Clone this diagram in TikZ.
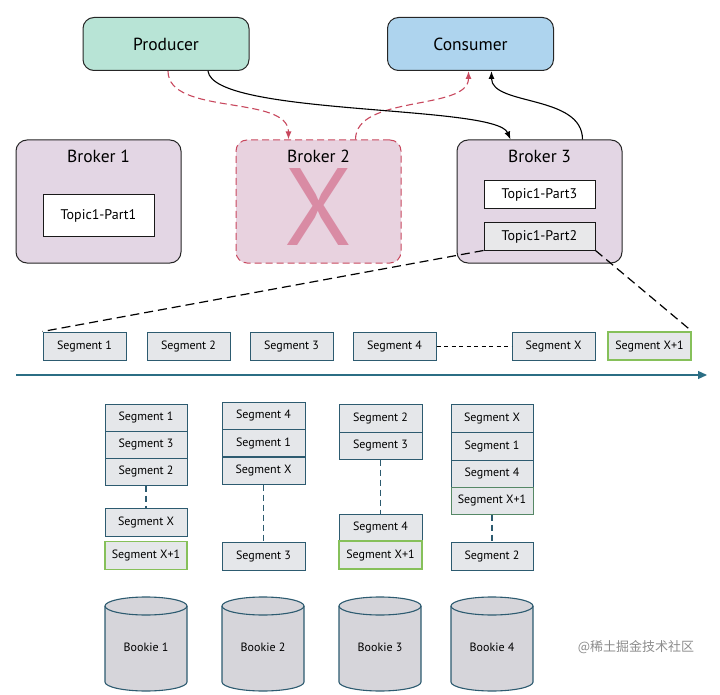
\documentclass[tikz,border=0pt]{standalone}
\usepackage{fontspec}
\setmainfont{PT Sans}
\newfontfamily\cjk{Noto Sans CJK SC}
\usetikzlibrary{arrows.meta}
\definecolor{prodfill}{HTML}{B8E4D6}
\definecolor{consfill}{HTML}{AED4EE}
\definecolor{brokfill}{HTML}{E3D6E4}
\definecolor{brokbfill}{HTML}{E8D2DF}
\definecolor{redd}{HTML}{C8485E}
\definecolor{xpink}{HTML}{D98BA4}
\definecolor{segfill}{HTML}{E5E7EA}
\definecolor{segline}{HTML}{2D5B70}
\definecolor{greenl}{HTML}{86C05A}
\definecolor{axiscol}{HTML}{2B6E84}
\definecolor{cylfill}{HTML}{D6D5DA}
\definecolor{tgray}{HTML}{E8E8EA}
\begin{document}
\begin{tikzpicture}[x=1pt,y=-1pt,
  top/.style={draw=black!85,line width=1pt,rounded corners=11pt,inner sep=0pt,
    minimum width=166pt,minimum height=53pt,font=\fontsize{17.5}{19}\selectfont},
  broker/.style={draw=black!85,line width=1pt,rounded corners=11pt,inner sep=0pt,
    minimum width=165pt,minimum height=123pt,fill=brokfill},
  btitle/.style={font=\fontsize{17.5}{19}\selectfont,inner sep=1pt},
  topic/.style={draw=black!90,line width=1pt,fill=white,inner sep=0pt,
    minimum width=111pt,font=\fontsize{14}{16}\selectfont},
  seg/.style={draw=segline,line width=1pt,fill=segfill,inner sep=0pt,
    minimum width=82pt,minimum height=27pt,font=\fontsize{12}{14}\selectfont},
  gseg/.style={seg,draw=greenl,line width=1.6pt},
  redarr/.style={draw=redd,line width=1.1pt,dash pattern=on 7pt off 4pt,
    -{Latex[length=8pt,width=6pt]}},
  blkarr/.style={draw=black,line width=1.1pt,-{Latex[length=8pt,width=6pt]}},
  zoomline/.style={draw=black,line width=1.2pt,dash pattern=on 9pt off 5pt},
  coldash/.style={draw=segline,line width=1.1pt,dash pattern=on 6pt off 4pt},
  cyl/.style={draw=segline,line width=1.1pt,fill=cylfill},
  lab/.style={font=\fontsize{12}{14}\selectfont,inner sep=1pt}]
\useasboundingbox (0,0) rectangle (720,695);

% top row
\node[top,fill=prodfill] (prod) at (166,44) {Producer};
\node[top,fill=consfill] (cons) at (470.5,44) {Consumer};

% brokers
\node[broker] (b1) at (98.5,201.5) {};
\node[btitle] (b1t) at (98.5,156) {Broker 1};
\node[broker,fill=brokbfill,draw=redd,dash pattern=on 7pt off 4pt] (b2) at (318.5,201.5) {};
\node[text=xpink,font=\fontsize{110}{112}\selectfont,inner sep=0pt,
  text height=0.70em,text depth=0pt,anchor=base] (bx) at (318.5,245) {X};
\node[btitle] (b2t) at (318.5,156) {Broker 2};
\node[broker] (b3) at (539.5,201.5) {};
\node[btitle] (b3t) at (539.5,156) {Broker 3};

\node[topic,minimum height=41pt] (t1) at (98.5,215.5) {Topic1-Part1};
\node[topic,minimum height=28pt] (t3) at (539.5,195) {Topic1-Part3};
\node[topic,minimum height=27pt,fill=tgray] (t2) at (539.5,236.5) {Topic1-Part2};

% arrows between top and brokers
\draw[redarr] ([xshift=2pt]prod.south) .. controls +(0,45) and +(0,-45) .. ([xshift=-30pt]b2.north);
\draw[redarr] ([xshift=37pt]b2.north) .. controls +(0,-45) and +(0,40) .. ([xshift=-2pt]cons.south);
\draw[blkarr] ([xshift=42pt]prod.south) .. controls +(5,45) and +(-15,-35) .. ([xshift=-29pt]b3.north);
\draw[blkarr] ([xshift=43pt]b3.north) .. controls +(0,-45) and +(0,35) .. ([xshift=21pt]cons.south);

% segment row
\node[seg,minimum width=83pt,minimum height=28pt] (s1) at (84.5,346) {Segment 1};
\node[seg,minimum width=83pt,minimum height=28pt] (s2) at (188.5,346) {Segment 2};
\node[seg,minimum width=83pt,minimum height=28pt] (s3) at (291.5,346) {Segment 3};
\node[seg,minimum width=83pt,minimum height=28pt] (s4) at (394.5,346) {Segment 4};
\node[seg,minimum width=83pt,minimum height=28pt] (sx) at (553.5,346) {Segment X};
\node[gseg,minimum width=83pt,minimum height=28pt] (sx1) at (649.5,346) {Segment X+1};
\draw[line width=1pt,dash pattern=on 4pt off 3.5pt] (s4) -- (sx);
\draw[zoomline] (t2.south west) -- (s1.north west);
\draw[zoomline] (t2.south east) -- (sx1.north east);

% axis
\coordinate (ax0) at (16,375);
\coordinate (ax1) at (707,375);
\draw[axiscol,line width=1.2pt,-{Triangle[length=9pt,width=8pt]}] (ax0) -- (ax1);

% column 1
\node[seg] (a1) at (146,417.5) {Segment 1};
\node[seg] (a2) at (146,444.5) {Segment 3};
\node[seg] (a3) at (146,471.5) {Segment 2};
\node[seg,minimum height=28pt] (a4) at (146,522) {Segment X};
\node[gseg,minimum height=28pt] (a5) at (146,555.5) {Segment X+1};
\draw[coldash] (a3.south) -- (a4.north);

% column 2
\node[seg,minimum width=83pt] (c1) at (263.5,415.5) {Segment 4};
\node[seg,minimum width=83pt] (c2) at (263.5,443) {Segment 1};
\node[seg,minimum width=83pt] (c3) at (263.5,470.5) {Segment X};
\node[seg,minimum width=83pt,minimum height=28pt] (c4) at (263.5,556) {Segment 3};
\draw[coldash] (c3.south) -- (c4.north);

% column 3
\node[seg,minimum width=83pt,minimum height=28pt] (d1) at (380.5,418) {Segment 2};
\node[seg,minimum width=83pt] (d2) at (380.5,445.5) {Segment 3};
\node[seg,minimum width=83pt] (d3) at (380.5,527.5) {Segment 4};
\node[gseg,minimum width=83pt,minimum height=28pt] (d4) at (380.5,555) {Segment X+1};
\draw[coldash] (d2.south) -- (d3.north);

% column 4
\node[seg,minimum height=28pt] (e1) at (492,418) {Segment X};
\node[seg,minimum height=28pt] (e2) at (492,446) {Segment 1};
\node[seg] (e3) at (492,473.5) {Segment 4};
\node[seg,draw=segline!55!greenl] (e4) at (492,500.5) {Segment X+1};
\node[seg,minimum height=28pt] (e5) at (492,556) {Segment 2};
\draw[coldash] (e4.south) -- (e5.north);

% bookies
\foreach \cx/\n in {146/1,263/2,380/3,492/4}{
  \filldraw[cyl] (\cx-41,606) -- (\cx-41,682)
     arc[start angle=180,end angle=0,x radius=41,y radius=9]
     -- (\cx+41,606)
     arc[start angle=0,end angle=-180,x radius=41,y radius=9] -- cycle;
  \draw[cyl,fill=none] (\cx-41,606) arc[start angle=180,end angle=0,x radius=41,y radius=9];
  \node[lab] (bk\n) at (\cx,647) {Bookie \n};
}

% watermark
\node[text=black!45,font=\cjk\fontsize{13}{15}\selectfont] (wm) at (636,647) {@稀土掘金技术社区};
\end{tikzpicture}
\end{document}
